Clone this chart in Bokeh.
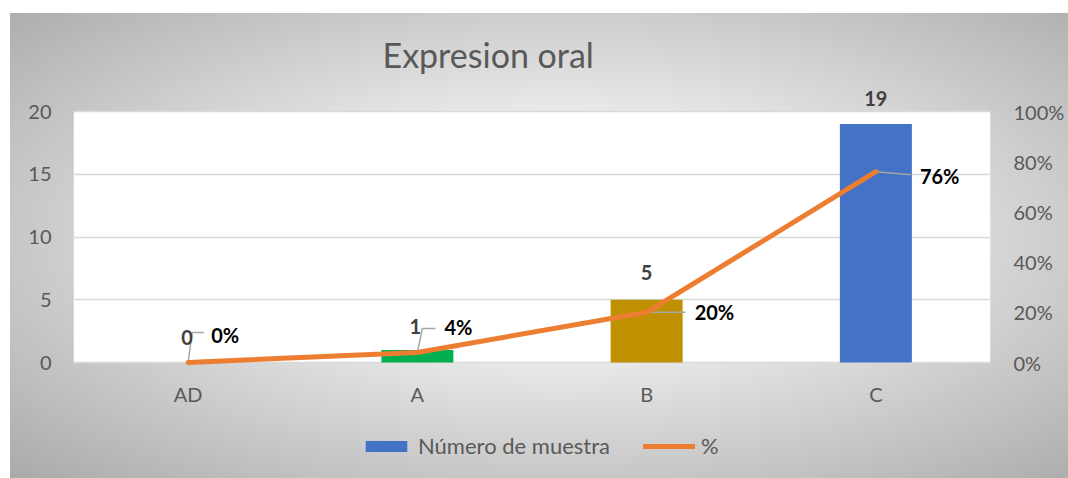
import numpy as np
from bokeh.plotting import figure
from bokeh.core.properties import value
from bokeh.models import (ColumnDataSource, LinearAxis, Range1d, FixedTicker,
                          NumeralTickFormatter, LabelSet, Legend, LegendItem,
                          InlineStyleSheet, BoxAnnotation)
from bokeh.embed import file_html
from bokeh.resources import INLINE

# ---------------- data ----------------
categories = ["AD", "A", "B", "C"]
counts = [0, 1, 5, 19]
percents = [0.00, 0.04, 0.20, 0.76]
count_labels = ["0", "1", "5", "19"]
pct_labels = ["0%", "4%", "20%", "76%"]
bar_colors = ["#4472C4", "#00B050", "#BF9000", "#4472C4"]
left_ticks = [0, 5, 10, 15, 20]
right_ticks = [0, 0.2, 0.4, 0.6, 0.8, 1.0]

# ---------------- layout / style ----------------
W, H = 1068, 478
PLOT_L, PLOT_R, PLOT_T, PLOT_B = 73, 990, 111, 362   # white plot area (px)
FRAME_T, FRAME_B = 80, H                              # frame spans beyond plot area
BL, BR, BT = PLOT_L, W - PLOT_R, FRAME_T
FW, FH = PLOT_R - PLOT_L, FRAME_B - FRAME_T
PH = PLOT_B - PLOT_T
FONT = "Lato"
GREY = "#595959"

y_max = max(left_ticks)
px_y = PH / y_max                  # pixels per count unit
y_top = y_max + (PLOT_T - FRAME_T) / px_y
y_bot = -(FRAME_B - PLOT_B) / px_y
px_p = PH / 1.0                    # pixels per 100 %
p_top = 1.0 + (PLOT_T - FRAME_T) / px_p
p_bot = -(FRAME_B - PLOT_B) / px_p

x = list(range(len(categories)))
x_lo, x_hi = -0.5, len(categories) - 0.5
px_x = FW / (x_hi - x_lo)          # pixels per category unit

# label offsets (pixels)
cnt_dx = [-1, -2, 0, 0]
cnt_dy = [25, 23, 27, 26]
pct_dx = [23, 27, 48, 44]
pct_dy = [28, 25, 0, -4]
# leader line bends (pixels, relative to the point)
leaders = [
    [(0, 0), (4, 30), (16, 30)],
    [(0, 0), (5, 24), (18, 24)],
    [(0, 0), (39, 0)],
    [(0, 0), (24, -2), (35, -3)],
]

css = (":host { background: radial-gradient(ellipse farthest-corner at 52% 48%, "
       "#ffffff 0%, #fbfbfb 18%, #aaaaaa 100%) 10px 13px / calc(100% - 10px) calc(100% - 13px) "
       "no-repeat, #ffffff; }")

p = figure(frame_width=FW, frame_height=FH, output_backend="svg", toolbar_location=None,
           x_range=Range1d(x_lo, x_hi), y_range=Range1d(y_bot, y_top),
           min_border_left=BL, min_border_right=BR, min_border_top=BT, min_border_bottom=0,
           title="Expresion oral")
p.stylesheets = [InlineStyleSheet(css=css)]
p.border_fill_alpha = 0
p.background_fill_alpha = 0
p.outline_line_color = None

# white plot area
p.add_layout(BoxAnnotation(bottom=0, top=y_max, fill_color="#ffffff", fill_alpha=1,
                           line_color=None, level="image"))

p.title.text_font = FONT
p.title.text_font_size = "34px"
p.title.text_font_style = "normal"
p.title.text_color = GREY
p.title.align = "left"
p.title.offset = 309
p.title.standoff = 11

p.extra_y_ranges = {"pct": Range1d(p_bot, p_top)}

# axes
p.xaxis.ticker = FixedTicker(ticks=x)
p.xaxis.major_label_overrides = {i: c for i, c in zip(x, categories)}
p.xaxis.fixed_location = 0
p.yaxis.ticker = FixedTicker(ticks=left_ticks)
ra = LinearAxis(y_range_name="pct", ticker=FixedTicker(ticks=right_ticks),
                formatter=NumeralTickFormatter(format="0%"))
p.add_layout(ra, "right")
for ax in [p.xaxis[0], p.yaxis[0], ra]:
    ax.axis_line_color = None
    ax.major_tick_line_color = None
    ax.minor_tick_line_color = None
    ax.major_tick_out = 0
    ax.major_tick_in = 0
    ax.minor_tick_out = 0
    ax.minor_tick_in = 0
    ax.major_label_text_font = FONT
    ax.major_label_text_font_size = "20px"
    ax.major_label_text_color = GREY
p.yaxis[0].major_label_standoff = 22
ra.major_label_standoff = 23
p.xaxis[0].major_label_standoff = 19

p.xgrid.grid_line_color = None
p.ygrid.ticker = FixedTicker(ticks=left_ticks)
p.ygrid.grid_line_color = "#d9d9d9"
p.ygrid.grid_line_width = 1.5

# bars
src = ColumnDataSource(dict(x=x, counts=counts, color=bar_colors, text=count_labels,
                            dx=cnt_dx, dy=cnt_dy))
bars = p.vbar(x="x", top="counts", width=0.314, fill_color="color", line_color=None,
              source=src)

# leader lines
xs, ys = [], []
for xi, pv, pts in zip(x, percents, leaders):
    xs.append([xi + a / px_x for a, b in pts])
    ys.append([pv + b / px_p for a, b in pts])
p.multi_line(xs=xs, ys=ys, y_range_name="pct", line_color="#a6a6a6", line_width=1.5)

# line
psrc = ColumnDataSource(dict(x=x, p=percents, text=pct_labels, dx=pct_dx, dy=pct_dy))
line = p.line(x="x", y="p", y_range_name="pct", source=psrc, line_color="#ED7D31",
              line_width=5, line_join="round", line_cap="round")

# labels
p.add_layout(LabelSet(x="x", y="counts", text="text", source=src, x_offset="dx", y_offset="dy",
                      text_align="center", text_baseline="middle", text_font=value(FONT),
                      text_font_size=value("20px"), text_font_style="bold", text_color="#404040"))
p.add_layout(LabelSet(x="x", y="p", text="text", source=psrc, y_range_name="pct",
                      x_offset="dx", y_offset="dy", text_align="left", text_baseline="middle",
                      text_font=value(FONT), text_font_size=value("20px"), text_font_style="bold",
                      text_color="#000000"))

legend = Legend(items=[LegendItem(label="Número de muestra", renderers=[bars], index=3),
                       LegendItem(label="%", renderers=[line])],
                orientation="horizontal", location=(287, 19), glyph_width=52,
                glyph_height=14, label_text_font=FONT, label_text_font_size="22px",
                label_text_color=GREY, spacing=33, padding=0, margin=0, label_standoff=6,
                border_line_color=None, background_fill_alpha=0)
p.add_layout(legend, "center")

open("out.html", "w").write(file_html(p, INLINE))
